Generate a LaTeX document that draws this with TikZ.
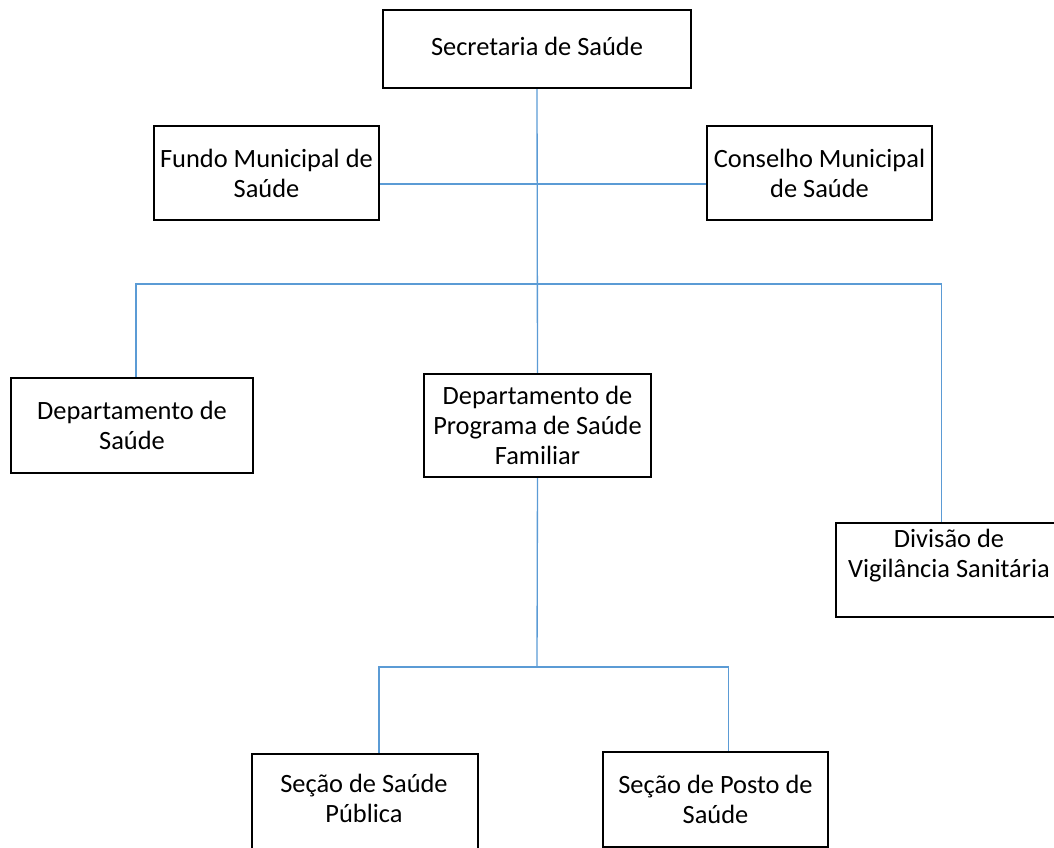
\documentclass[tikz,border=0pt]{standalone}
\usepackage{fontspec}
\setmainfont{Carlito}
\usepackage{tikz}
\usepackage{xcolor}
\usetikzlibrary{positioning, calc}
\definecolor{linkblue}{RGB}{91,155,213}

\begin{document}
\begin{tikzpicture}[x=0.75pt, y=-0.75pt,
  unit/.style={draw=black, line width=1.6pt, fill=white, align=center, inner sep=0pt,
    font=\fontsize{19.8}{22.5}\selectfont},
  link/.style={draw=linkblue, line width=1pt}]
\useasboundingbox (0,0) rectangle (1054,848);

% boxes
\node[unit, minimum width=231pt, minimum height=58.5pt] (sec) at (537,49) {};
\node[font=\fontsize{19.8}{22.5}\selectfont] (sectext) at (537,46) {Secretaria de Sa\'ude};
\node[unit, minimum width=168.75pt, minimum height=70.5pt] (fundo) at (266.5,173) {Fundo Municipal de\\Sa\'ude};
\node[unit, minimum width=168.75pt, minimum height=70.5pt] (conselho) at (819.5,173) {Conselho Municipal\\de Sa\'ude};
\node[unit, minimum width=181.5pt, minimum height=71.25pt] (dsaude) at (132,425.5) {Departamento de\\Sa\'ude};
\node[unit, minimum width=170.25pt, minimum height=77.25pt] (dpsf) at (537.5,425.5) {Departamento de\\Programa de Sa\'ude\\Familiar};
\node[unit, minimum width=168.75pt, minimum height=70.5pt] (divisao) at (948.5,570) {};
\node[align=center, font=\fontsize{19.8}{22.5}\selectfont] (divtext) at (949,556) {Divis\~ao de\\Vigil\^ancia Sanit\'aria};
\node[unit, minimum width=169.5pt, minimum height=72pt] (pub) at (365,802) {};
\node[align=center, font=\fontsize{19.8}{22.5}\selectfont] (pubtext) at (364,798) {Se\c{c}\~ao de Sa\'ude\\P\'ublica};
\node[unit, minimum width=168.75pt, minimum height=71.25pt] (posto) at (715.5,799.5) {Se\c{c}\~ao de Posto de\\Sa\'ude};

% connectors
\coordinate (j1) at (537,184);
\coordinate (j2) at (537,284);
\coordinate (j3) at (537,667);
\draw[link] (sec.south) -- (dpsf.north);
\draw[link] (fundo.east |- j1) -- (conselho.west |- j1);
\draw[link] ([xshift=3pt]dsaude.north) |- (j2) -| ([xshift=-5.5pt]divisao.north);
\draw[link] (dpsf.south) -- (j3);
\draw[link] ([xshift=10.5pt]pub.north) |- (j3) -| ([xshift=9.5pt]posto.north);
\end{tikzpicture}
\end{document}
